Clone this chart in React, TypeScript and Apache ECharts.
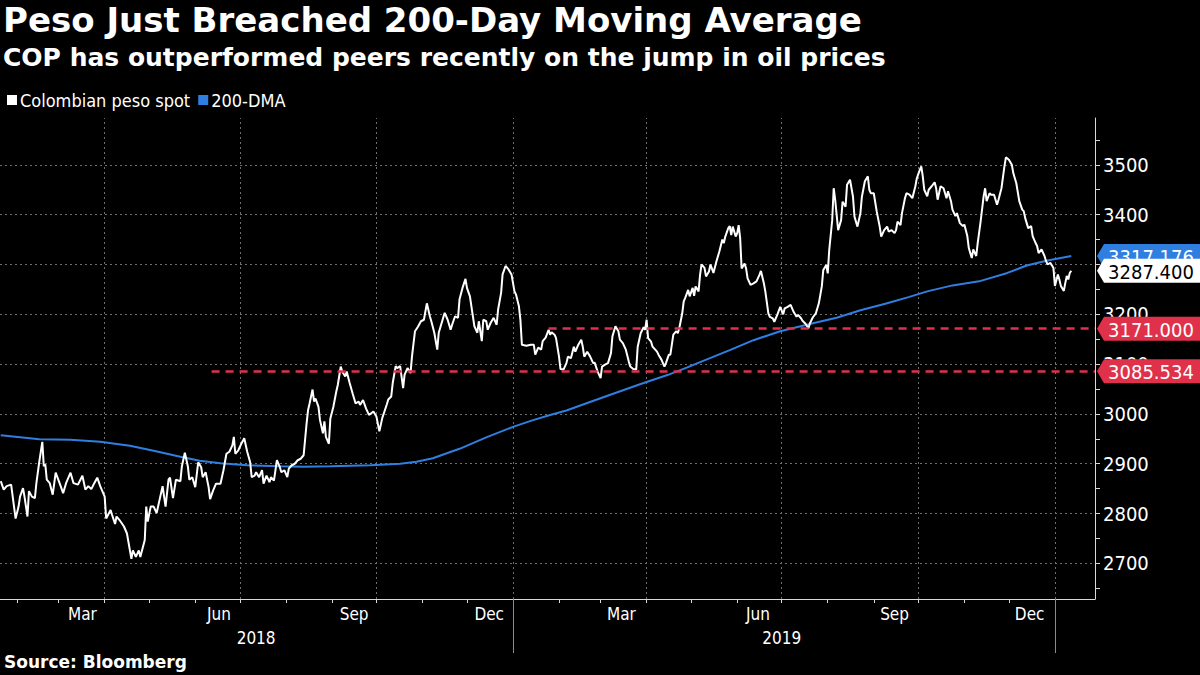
import React, { useEffect, useRef } from "react";
import * as echarts from "echarts";

// x values are day numbers counted from 2018-01-01 (day 0)
const spotData: [number, number][] = [
  [20,2865],[22,2848],[24,2855],[27,2858],[30,2790],[32,2814],[33,2834],[35,2851],[36,2834],[38,2794],[39,2845],[41,2834],[43,2831],[44,2861],[46,2905],[48,2944],[49,2895],[50,2899],[51,2868],[53,2861],[55,2838],[57,2882],[60,2858],[62,2841],[64,2861],[67,2882],[69,2861],[72,2858],[75,2876],[77,2848],[79,2855],[81,2849],[83,2861],[85,2872],[87,2855],[90,2834],[91,2790],[94,2807],[95,2797],[97,2779],[98,2794],[100,2787],[103,2774],[105,2760],[108,2709],[109,2726],[111,2713],[113,2726],[114,2713],[117,2747],[118,2814],[119,2784],[121,2814],[123,2814],[125,2801],[127,2828],[129,2855],[131,2814],[133,2868],[134,2872],[136,2831],[138,2868],[141,2865],[142,2895],[144,2922],[146,2895],[147,2868],
  [149,2873],[151,2853],[153,2903],[155,2893],[156,2873],[158,2883],[160,2853],[161,2829],[163,2846],[165,2860],[168,2860],[170,2887],[172,2920],[174,2924],[176,2937],[177,2954],[178,2920],[180,2927],[182,2940],[184,2951],[186,2924],[188,2903],[189,2873],[191,2876],[192,2883],[194,2873],[196,2887],[197,2860],[199,2876],[201,2863],[202,2873],[204,2866],[206,2907],[208,2893],[209,2883],[211,2887],[213,2873],[214,2890],[216,2897],[218,2900],[220,2907],[222,2910],[224,2917],[226,2981],[227,3008],[228,3021],[230,3049],[231,3025],[232,3031],[234,3014],[235,2988],[237,2961],[238,2985],[239,2954],[241,2940],[242,2991],[244,3014],[246,3045],[247,3058],[249,3095],[250,3085],[252,3075],[253,3085],[255,3062],[257,3041],[259,3021],[261,3025],[262,3018],[264,3028],[266,3011],[268,2998],
  [271,3005],[273,2995],[275,2965],[277,2992],[280,3019],[281,3029],[283,3035],[284,3062],[286,3096],[287,3092],[289,3096],[291,3052],[292,3079],[294,3092],[296,3082],[297,3116],[299,3166],[301,3175],[303,3186],[305,3189],[307,3222],[309,3196],[310,3186],[312,3163],[314,3129],[315,3163],[318,3193],[319,3203],[321,3189],[323,3169],[324,3179],[326,3196],[328,3193],[329,3230],[331,3253],[333,3271],[334,3253],[336,3236],[338,3196],[339,3176],[341,3163],[342,3186],[344,3146],[345,3189],[347,3186],[348,3169],[350,3183],[352,3193],[354,3179],[355,3210],[357,3243],[358,3280],[360,3297],[362,3290],[364,3280],[366,3246],[367,3240],[369,3216],[370,3189],[371,3139],[374,3137],[377,3139],[379,3139],[380,3119],[382,3133],[384,3129],[385,3146],[387,3153],[389,3169],[390,3159],
  [391,3164],[393,3159],[394,3152],[396,3115],[397,3090],[399,3089],[401,3102],[402,3115],[404,3112],[406,3135],[407,3125],[409,3139],[411,3149],[412,3135],[413,3115],[415,3125],[417,3115],[419,3102],[420,3103],[422,3085],[424,3072],[425,3095],[427,3099],[429,3102],[431,3122],[432,3156],[434,3176],[436,3166],[437,3149],[439,3142],[441,3129],[443,3105],[444,3095],[446,3090],[448,3089],[449,3135],[451,3162],[453,3174],[454,3169],[455,3189],[456,3152],[458,3145],[459,3135],[462,3125],[463,3119],[465,3109],[467,3095],[468,3102],[470,3119],[471,3119],[473,3159],[475,3166],[476,3162],[477,3172],[479,3202],[480,3226],[481,3233],[483,3249],[484,3236],[486,3253],[487,3237],[488,3256],[490,3246],[491,3279],[492,3300],[494,3293],[495,3276],[497,3286],[498,3300],[500,3283],[502,3306],[504,3326],[506,3350],[507,3343],[508,3356],[510,3373],[511,3377],
  [512,3359],[513,3376],[515,3356],[516,3363],[517,3379],[518,3353],[519,3292],[521,3302],[522,3292],[523,3272],[525,3259],[527,3262],[529,3266],[531,3279],[532,3287],[534,3262],[535,3245],[537,3202],[538,3195],[540,3192],[541,3185],[543,3199],[545,3215],[547,3200],[548,3212],[550,3215],[552,3219],[554,3205],[556,3195],[557,3199],[559,3192],[560,3187],[562,3181],[564,3172],[565,3182],[567,3194],[569,3202],[571,3222],[573,3256],[574,3289],[576,3299],[577,3282],[578,3329],[580,3389],[581,3453],[582,3430],[584,3369],[586,3389],[587,3426],[589,3416],[590,3460],[592,3470],[594,3436],[595,3396],[597,3376],[599,3403],[600,3436],[602,3467],[604,3477],[605,3450],[606,3443],[608,3443],[610,3406],[612,3376],[613,3356],[615,3369],[617,3376],[618,3366],[620,3369],[622,3363],[623,3369],[624,3386],[626,3379],[627,3403],[629,3433],[630,3443],[632,3440],
  [634,3433],[636,3457],[637,3473],[639,3490],[640,3497],[641,3477],[642,3450],[644,3437],[645,3450],[647,3457],[649,3465],[650,3453],[651,3430],[653,3457],[655,3453],[657,3433],[658,3447],[660,3427],[661,3410],[663,3397],[664,3403],[666,3383],[668,3377],[669,3380],[671,3357],[672,3333],[674,3313],[675,3330],[677,3317],[678,3343],[680,3387],[682,3437],[683,3453],[684,3427],[686,3443],[687,3440],[689,3440],[691,3420],[692,3430],[694,3453],[696,3497],[697,3515],[699,3510],[701,3500],[702,3483],[704,3463],[706,3427],[708,3410],[709,3407],[710,3393],[712,3373],[714,3377],[715,3357],[717,3343],[718,3337],[719,3323],[721,3330],[723,3317],[724,3307],[725,3300],[727,3303],[729,3293],[730,3257],[732,3280],[733,3270],[734,3257],[736,3247],[737,3263],[738,3277],[739,3270],[740,3283],[741,3287.4]
];

const dmaData: [number, number][] = [
  [20,2957],[33,2953],[46,2949],[67,2948],[87,2944],[107,2936],[123,2926],[141,2914],[154,2906],[168,2901],[186,2897],[208,2895],[224,2894],[242,2895],[269,2897],[289,2900],[300,2904],[311,2911],[329,2930],[347,2953],[365,2974],[378,2987],[390,2998],[401,3007],[415,3022],[432,3040],[451,3060],[469,3078],[482,3093],[496,3110],[511,3128],[527,3148],[545,3166],[567,3182],[583,3193],[599,3208],[617,3222],[632,3235],[644,3246],[661,3258],[680,3267],[698,3283],[711,3298],[725,3308],[741,3317.176]
];

const refLevels = [3171.0, 3085.534];
const refStartDays = [389, 162];

const yLabelValues = [2700, 2800, 2900, 3000, 3100, 3200, 3300, 3400, 3500];
const yTickValues = [2650, 2700, 2750, 2800, 2850, 2900, 2950, 3000, 3050, 3100, 3150, 3200, 3250, 3300, 3350, 3400, 3450, 3500, 3550];
const monthTickDays = [31, 59, 90, 120, 151, 181, 212, 243, 273, 304, 334, 365, 396, 424, 455, 485, 516, 546, 577, 608, 638, 669, 699, 730];
const quarterGridDays = [90, 181, 273, 365, 455, 546, 638, 730];
const monthLabelDays = [75, 167, 258, 349, 438, 530, 622, 713];
const monthLabels = ["Mar", "Jun", "Sep", "Dec", "Mar", "Jun", "Sep", "Dec"];
const yearLabelDays = [192, 546];
const yearLabels = ["2018", "2019"];
const yearBreakDays = [365, 730];

const X_MIN = 19.5;
const X_MAX = 757;
const Y_MIN = 2628.5;
const Y_MAX = 3594;

const FONT = "'DejaVu Sans Condensed', 'DejaVu Sans', sans-serif";
const FONT_WIDE = "'DejaVu Sans', sans-serif";

function lookup(days: number[], labels: string[], v: number) {
  let best = 0;
  for (let i = 1; i < days.length; i++) {
    if (Math.abs(days[i] - v) < Math.abs(days[best] - v)) best = i;
  }
  return labels[best];
}

const TAG_PATH = "path://M0,12L7,0L110,0L110,24L7,24Z";

function tag(color: string, textColor: string, value: number, z: number) {
  return {
    z,
    silent: true,
    symbol: TAG_PATH,
    symbolSize: [110, 24],
    symbolKeepAspect: false,
    symbolOffset: [57, 0],
    itemStyle: { color },
    label: {
      show: true,
      position: "inside",
      offset: [-1, 1],
      color: textColor,
      fontSize: 20,
      fontFamily: FONT,
      formatter: () => value.toFixed(3),
    },
    data: [{ coord: [X_MAX, value], value }],
  };
}

export default function App() {
  const ref = useRef<HTMLDivElement>(null);
  useEffect(() => {
    if (!ref.current) return;
    const chart = echarts.init(ref.current, null, { renderer: "svg" });
    const lastSpot = spotData[spotData.length - 1][1];
    const lastDma = dmaData[dmaData.length - 1][1];
    chart.setOption({
      animation: false,
      backgroundColor: "#000000",
      textStyle: { fontFamily: FONT },
      title: [
        {
          text: "Peso Just Breached 200-Day Moving Average",
          left: 3,
          top: 3,
          padding: 0,
          textStyle: { color: "#ffffff", fontSize: 34, fontWeight: "bold", fontFamily: FONT_WIDE },
        },
        {
          text: "COP has outperformed peers recently on the jump in oil prices",
          left: 3,
          top: 45,
          padding: 0,
          textStyle: { color: "#ffffff", fontSize: 25, fontWeight: "bold", fontFamily: FONT_WIDE },
        },
        {
          text: "Source: Bloomberg",
          left: 4,
          top: 653,
          padding: 0,
          textStyle: { color: "#ffffff", fontSize: 17, fontWeight: "bold", fontFamily: FONT_WIDE },
        },
      ],
      legend: {
        data: ["Colombian peso spot", "200-DMA"],
        left: 7,
        top: 91,
        padding: 0,
        icon: "rect",
        itemWidth: 10,
        itemHeight: 10,
        itemGap: 8,
        selectedMode: false,
        textStyle: { color: "#ffffff", fontSize: 18, fontFamily: FONT, padding: [0, 0, 0, -2] },
      },
      grid: { left: 0, right: 105, top: 118, bottom: 76, containLabel: false },
      xAxis: [
        {
          type: "value",
          min: X_MIN,
          max: X_MAX,
          splitLine: { show: false },
          axisLine: { show: true, onZero: false, lineStyle: { color: "#d9d9d9", width: 1 } },
          axisTick: { show: true, customValues: monthTickDays, length: 4, lineStyle: { color: "#d9d9d9" } },
          axisLabel: {
            customValues: monthLabelDays,
            formatter: (v: number) => lookup(monthLabelDays, monthLabels, v),
            color: "#ffffff",
            fontSize: 17,
            margin: 6,
            fontFamily: FONT,
          },
        },
        {
          type: "value",
          position: "bottom",
          offset: 0,
          min: X_MIN,
          max: X_MAX,
          splitLine: { show: false },
          axisLine: { show: false, onZero: false },
          axisTick: { show: true, customValues: yearBreakDays, length: 54, lineStyle: { color: "#8a8a8a" } },
          axisLabel: {
            customValues: yearLabelDays,
            formatter: (v: number) => lookup(yearLabelDays, yearLabels, v),
            color: "#ffffff",
            fontSize: 17,
            margin: 30,
            fontFamily: FONT,
          },
        },
      ],
      yAxis: {
        type: "value",
        position: "right",
        min: Y_MIN,
        max: Y_MAX,
        splitLine: { show: false },
        axisLine: { show: true, lineStyle: { color: "#d9d9d9", width: 1 } },
        axisTick: { show: true, customValues: yTickValues, length: 5, lineStyle: { color: "#d9d9d9" } },
        axisLabel: {
          customValues: yLabelValues,
          formatter: (v: number) => String(Math.round(v)),
          color: "#ffffff",
          fontSize: 20,
          margin: 8,
          fontFamily: FONT,
        },
      },
      series: [
        {
          name: "grid",
          type: "line",
          data: [],
          silent: true,
          markLine: {
            z: 1,
            silent: true,
            symbol: ["none", "none"],
            label: { show: false },
            lineStyle: { color: "#6e6e6e", width: 1, type: [2, 3] },
            data: [
              ...yLabelValues.map((v) => ({ yAxis: v })),
              ...quarterGridDays.map((d) => ({ xAxis: d })),
            ],
          },
        },
        {
          name: "200-DMA",
          type: "line",
          data: dmaData,
          showSymbol: false,
          silent: true,
          lineStyle: { color: "#2f7fe0", width: 2 },
          itemStyle: { color: "#2f7fe0" },
          markPoint: tag("#2f7fe0", "#ffffff", lastDma, 5),
        },
        {
          name: "Colombian peso spot",
          type: "line",
          data: spotData,
          showSymbol: false,
          silent: true,
          lineStyle: { color: "#ffffff", width: 2 },
          itemStyle: { color: "#ffffff" },
          markPoint: tag("#ffffff", "#000000", lastSpot, 6),
        },
        {
          name: "levels",
          type: "line",
          data: [],
          silent: true,
          markLine: {
            z: 5,
            silent: true,
            symbol: ["none", "none"],
            label: { show: false },
            lineStyle: { color: "#e0314b", width: 2.5, type: [8, 6] },
            data: refLevels.map((v, i) => [
              { coord: [refStartDays[i], v] },
              { coord: [X_MAX, v] },
            ]),
          },
          markPoint: {
            z: 5,
            silent: true,
            symbol: TAG_PATH,
            symbolSize: [110, 24],
            symbolKeepAspect: false,
            symbolOffset: [57, 0],
            itemStyle: { color: "#e0314b" },
            label: {
              show: true,
              position: "inside",
              offset: [-1, 1],
              color: "#ffffff",
              fontSize: 20,
              fontFamily: FONT,
              formatter: (p: any) => Number(p.value).toFixed(3),
            },
            data: refLevels.map((v) => ({ coord: [X_MAX, v], value: v })),
          },
        },
      ],
    });
    return () => chart.dispose();
  }, []);
  return (
    <div
      ref={ref}
      style={{ position: "absolute", left: 0, top: 0, width: 1200, height: 675, background: "#000" }}
    />
  );
}
